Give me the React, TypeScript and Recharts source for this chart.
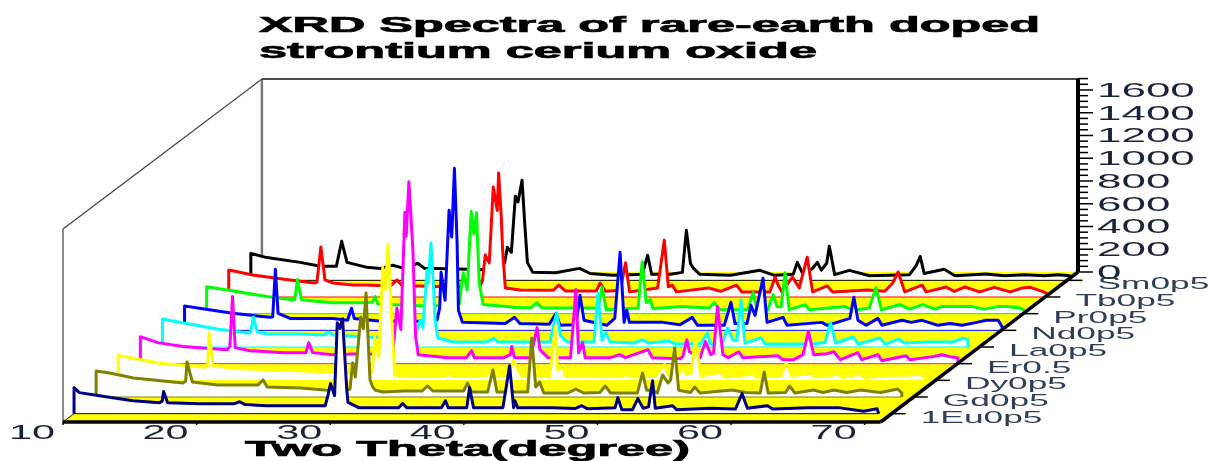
import { Area, ComposedChart, XAxis, YAxis } from "recharts";

type Pair = [number, number];

// two theta (degree), counts, front trace first
const eu0p5: Pair[] = [[10,229],[10.4,185],[11.9,158],[14.4,114],[16.4,97],[16.6,110],[16.7,194],[17,97],[19.4,88],[22,88],[22.4,105],[22.8,80],[24.4,70],[26.9,70],[28.8,70],[29,158],[29.2,264],[29.5,158],[29.7,800],[29.9,750],[30.1,835],[30.4,230],[30.5,100],[30.7,88],[31.3,53],[33.3,53],[34.3,53],[34.6,88],[34.9,53],[37.5,53],[37.8,114],[38,53],[39.4,53],[39.6,229],[39.9,53],[42.1,53],[42.6,422],[42.9,53],[43,114],[43.2,53],[45.8,53],[47.5,45],[48,70],[48.4,44],[50.5,53],[50.7,141],[51,35],[51.8,35],[52.2,132],[52.6,48],[53,60],[53.3,290],[53.5,48],[54.8,70],[55.1,35],[57.6,48],[59.5,40],[60,176],[60.4,48],[61.9,70],[62.3,40],[64.9,53],[67.2,53],[69.1,22],[70.1,44],[70.2,8]];
const gd0p5: Pair[] = [[10,229],[11,211],[12.8,167],[16.5,123],[16.7,140],[16.8,308],[17.2,132],[19.1,105],[22.1,105],[22.5,150],[22.8,88],[25.3,79],[27.1,62],[28.6,53],[29,70],[29.2,300],[29.4,176],[29.8,704],[30,600],[30.2,915],[30.4,390],[30.5,150],[30.7,88],[30.9,60],[31.5,44],[33,53],[34.4,53],[34.8,97],[35.2,53],[37.5,53],[37.8,123],[38.1,44],[39.3,44],[39.7,238],[40,44],[42.3,44],[42.6,519],[42.9,88],[43.2,132],[43.5,35],[45.3,35],[45.9,70],[46.5,35],[47.7,40],[48.1,97],[48.5,35],[50.5,35],[50.9,211],[51.2,60],[51.6,60],[52,35],[52.4,194],[52.8,123],[53,150],[53.3,431],[53.6,60],[54.5,40],[54.8,88],[55.2,35],[57.6,62],[58.6,40],[59.7,35],[60,220],[60.3,35],[61.6,40],[61.9,97],[62.3,35],[63.7,62],[64.4,40],[65.2,62],[66.2,40],[67.2,62],[68.7,40],[70,70],[70.3,35]];
const dy0p5: Pair[] = [[10,220],[11.1,194],[13.1,150],[16.5,114],[16.7,130],[16.8,413],[17.1,132],[18.6,105],[22.4,88],[26.1,70],[28.1,62],[29,70],[29.2,378],[29.5,200],[29.8,993],[30,800],[30.2,1195],[30.4,700],[30.6,250],[30.7,44],[32.6,35],[34.4,35],[34.7,70],[35,35],[37.5,35],[37.8,70],[38.1,35],[39.2,40],[39.6,176],[39.9,100],[40.2,35],[42.3,35],[42.7,466],[42.9,90],[43.2,132],[43.5,35],[46.1,44],[47.7,35],[48.1,53],[48.5,30],[50.2,35],[50.9,140],[51.2,40],[51.9,40],[52.2,114],[52.6,50],[52.9,70],[53.2,378],[53.6,40],[55.1,70],[55.4,30],[57.5,53],[57.8,30],[59.6,40],[60,150],[60.4,40],[61.8,62],[62.2,30],[63.9,53],[64.2,26],[65.5,53],[65.9,26],[67.8,44],[69,44],[70,53],[70.4,30]];
const er0p5: Pair[] = [[10,237],[11.3,185],[13.2,150],[16.5,123],[16.7,150],[16.9,590],[17.1,141],[18.2,114],[20.7,97],[22.4,97],[22.6,185],[22.9,97],[24.4,79],[26.5,88],[28.5,79],[28.9,90],[29.2,490],[29.5,300],[29.8,1330],[29.9,1120],[30.1,1600],[30.4,1000],[30.6,240],[30.8,79],[33,53],[34.4,53],[34.8,114],[35,53],[37.2,53],[37.7,80],[37.8,150],[38,53],[39.2,53],[39.7,317],[39.9,123],[40.5,53],[42.2,53],[42.6,651],[42.8,97],[43.1,185],[43.3,53],[45.2,53],[45.9,79],[46.3,53],[48,123],[48.3,53],[50.4,44],[50.6,60],[50.9,211],[51.1,105],[51.9,53],[52.3,194],[52.7,79],[52.9,90],[53.2,501],[53.6,79],[54,53],[54.8,105],[55.1,53],[57.7,70],[58.1,35],[58.9,35],[59.6,79],[60,282],[60.4,79],[61.4,88],[61.9,105],[62.4,35],[63.7,97],[64,35],[65.2,79],[65.5,26],[67.3,70],[67.6,35],[69.3,62],[70,79],[70.6,62],[71.2,50]];
const la0p5: Pair[] = [[10,246],[11.6,211],[14.1,158],[16.4,123],[16.6,130],[16.8,264],[17.1,132],[17.9,114],[20.3,114],[22.1,105],[22.4,132],[22.8,105],[25.3,88],[27.8,80],[28.9,90],[29.3,238],[29.5,167],[29.8,677],[29.9,560],[30.1,915],[30.3,500],[30.4,250],[30.6,79],[31.8,44],[34.3,44],[34.8,79],[35.1,44],[39,44],[39.5,299],[39.8,100],[40.3,44],[42.3,44],[42.6,475],[42.9,60],[43.2,123],[43.5,44],[45.3,35],[45.9,62],[46.4,35],[47.9,53],[48.4,26],[50.3,30],[50.8,123],[51,26],[51.9,30],[52.3,167],[52.7,60],[53,60],[53.3,413],[53.6,35],[54.8,79],[55.1,26],[57.6,26],[58.9,30],[59.6,40],[60,211],[60.4,35],[61.7,88],[62.1,26],[63.7,79],[64.1,26],[65.1,70],[65.5,35],[67.3,44],[69.2,44],[69.9,79],[70.3,60]];
const nd0p5: Pair[] = [[10,215],[11.1,194],[13.6,150],[16.4,114],[16.6,120],[16.8,536],[17,150],[17.9,105],[21.1,105],[22.2,88],[22.5,194],[22.7,105],[24.7,80],[27.6,80],[28.9,90],[29.1,200],[29.2,510],[29.5,264],[29.8,1056],[30,820],[30.2,1425],[30.4,765],[30.5,176],[30.8,70],[34,60],[34.7,114],[35.1,60],[37.3,53],[37.8,150],[38.1,44],[39.3,50],[39.6,308],[39.9,88],[41.6,44],[42.2,105],[42.6,686],[42.9,70],[43.1,176],[43.3,70],[45.8,70],[47.1,50],[48,114],[48.4,44],[50.4,44],[50.9,246],[51.2,60],[52.1,60],[52.4,220],[52.7,130],[53.3,458],[53.6,70],[54.8,114],[55.1,44],[57.7,70],[58.1,44],[59.8,105],[60.1,290],[60.4,88],[61,44],[61.9,105],[62.2,44],[63.7,88],[64.4,70],[65.2,88],[66.4,44],[67.3,60],[68.2,44],[69.3,70],[70,88],[70.9,88],[71.2,30]];
const pr0p5: Pair[] = [[10,237],[11.9,202],[14.5,150],[16.4,123],[16.6,125],[16.8,300],[17.1,123],[19.4,97],[21.5,97],[22.4,100],[22.6,150],[22.8,85],[25.9,70],[28.6,70],[28.9,85],[29.2,360],[29.5,210],[29.8,897],[30,700],[30.2,888],[30.4,270],[30.7,80],[33.4,53],[34.3,53],[34.7,97],[35.1,50],[39.3,50],[39.6,237],[39.9,35],[42.3,50],[42.6,457],[42.9,97],[43.2,123],[43.4,45],[45.6,62],[47.6,50],[48,97],[48.4,35],[50.5,35],[50.9,185],[51.2,35],[52,35],[52.4,167],[52.7,62],[53,60],[53.3,360],[53.6,35],[54.8,80],[55.1,35],[57.8,62],[58.4,30],[59.6,50],[60.1,230],[60.5,35],[61.9,80],[62.6,40],[63.6,80],[64.5,40],[65,62],[67.3,62],[68.2,40],[69.2,62],[69.9,62],[70.9,50],[71.2,30]];
const tb0p5: Pair[] = [[10,237],[11.8,194],[14,158],[16.4,123],[16.6,130],[16.9,440],[17.2,150],[17.8,123],[19.3,105],[20.3,105],[22.1,97],[22.6,150],[23,97],[24.3,97],[26.5,88],[28.8,88],[29,150],[29.2,370],[29.5,300],[29.8,968],[30.1,760],[30.2,1090],[30.4,700],[30.5,410],[30.7,80],[31.8,62],[34.3,60],[34.7,105],[35.2,53],[37.5,53],[37.8,123],[38.2,50],[39.3,60],[39.7,300],[40,45],[42.1,80],[42.6,500],[42.9,90],[43.2,105],[43.5,45],[45.9,80],[46.8,50],[48,105],[48.4,45],[50.5,45],[50.9,176],[51.1,110],[51.4,45],[52.2,176],[52.7,80],[53.3,350],[53.7,45],[54.8,97],[55.2,45],[57.8,62],[59.1,50],[59.7,123],[60.1,220],[60.6,45],[61.9,105],[62.2,45],[63.7,88],[64.3,50],[65.1,88],[66.2,45],[67.3,85],[68.5,45],[69.4,80],[70,85],[70.9,50],[71.2,35]];
const sm0p5: Pair[] = [[10,237],[11.2,200],[13.7,158],[15.2,123],[16.4,123],[16.8,343],[17.2,158],[18.7,114],[19.7,105],[20.6,132],[21.5,105],[22.5,150],[23,105],[23.9,105],[26.2,97],[28.6,88],[29,158],[29.2,290],[29.5,246],[29.8,740],[30,690],[30.3,880],[30.5,500],[30.7,158],[31.1,70],[32.8,66],[34.6,105],[35.4,60],[37.1,44],[38.4,50],[39.3,53],[39.7,220],[40,53],[41.4,53],[42.3,70],[42.6,440],[42.9,150],[43.1,110],[43.6,53],[45.9,44],[48.1,88],[49.2,44],[50.6,53],[50.9,158],[51.3,60],[52,100],[52.4,158],[52.7,90],[53.1,150],[53.3,300],[53.7,50],[54.8,88],[56.3,40],[59.3,50],[59.8,130],[60.1,210],[60.4,60],[61.9,97],[62.7,40],[65,55],[66.4,40],[67.9,50],[69.4,40],[70.4,50],[71.3,40]];

const seriesData = [eu0p5, gd0p5, dy0p5, er0p5, la0p5, nd0p5, pr0p5, tb0p5, sm0p5];
const seriesNames = ["1Eu0p5", "Gd0p5", "Dy0p5", "Er0.5", "La0p5", "Nd0p5", "Pr0p5", "Tb0p5", "Sm0p5"];
const seriesColors = ["#000080", "#808000", "#ffff00", "#ff00ff", "#00ffff", "#0000ff", "#00ff00", "#ff0000", "#000000"];
const xTicks = [10, 20, 30, 40, 50, 60, 70];
const yMajor = [0, 200, 400, 600, 800, 1000, 1200, 1400, 1600];
const yAll = [0,50,100,150,200,250,300,350,400,450,500,550,600,650,700,750,800,850,900,950,1000,1050,1100,1150,1200,1250,1300,1350,1400,1450,1500,1550,1600,1650,1700];

// oblique offset of one depth step, in axis units
const DX = 1.654;
const DY = 146.5;
const DEPTH = seriesData.length;
const X_MIN = 10;
const X_END = 71.2;
const X_MAX = 85.97;
const Y_MAX = 3015;
const BACK = DEPTH * DY;
const BACK_X = DEPTH * DX;
const WALL_TOP = Y_MAX;
const SIDE_TOP = Y_MAX - BACK;

const INK = "#1a2438";
const FONT = "'Liberation Sans', Arial, sans-serif";

const shifted = (pts: Pair[], depth: number) =>
  pts.map(([t, c]) => ({ x: t + depth * DX, y: c + depth * DY }));

const floor = [
  { x: X_MIN, low: 0, high: 0 },
  { x: X_MIN + BACK_X, low: 0, high: BACK },
  { x: X_END, low: 0, high: BACK },
  { x: X_MAX, low: BACK, high: BACK },
];

const seg = (x1: number, y1: number, x2: number, y2: number) => [
  { x: x1, y: y1 },
  { x: x2, y: y2 },
];

const zAnchors = seriesNames.map((name, k) => ({
  x: X_END + (k + 0.5) * DX,
  y: (k + 0.5) * DY,
  name,
}));

const frameLine = (key: string, data: { x: number; y: number }[], color: string, width: number) => (
  <Area
    key={key}
    data={data}
    dataKey="y"
    type="linear"
    baseValue={0}
    fill="none"
    stroke={color}
    strokeWidth={width}
    dot={false}
    activeDot={false}
    isAnimationActive={false}
  />
);

const XTick = (props: any) => {
  const { x, y, payload } = props;
  return (
    <g>
      <line x1={x} y1={y} x2={x} y2={y + 3} stroke="#000" strokeWidth={1.5} />
      <text
        transform={`translate(${x - 31},${y + 17}) scale(2.07,1)`}
        textAnchor="middle"
        fontFamily={FONT}
        fontSize={20}
        fill={INK}
      >
        {payload.value}
      </text>
    </g>
  );
};

const YTick = (props: any) => {
  const { x, y, payload } = props;
  const v = Math.round(payload.value - BACK);
  const major = yMajor.includes(v);
  return (
    <g>
      <line x1={x} y1={y} x2={x + (major ? 15 : 10)} y2={y} stroke="#000" strokeWidth={1.5} />
      {major && (
        <text
          transform={`translate(${x + 19},${y + 7}) scale(2.2,1)`}
          fontFamily={FONT}
          fontSize={20}
          fill={INK}
        >
          {v}
        </text>
      )}
    </g>
  );
};

const ZTick = (props: any) => {
  const { cx, cy, payload } = props;
  return (
    <g key={payload.name}>
      <line x1={cx} y1={cy} x2={cx + 14} y2={cy} stroke="#000" strokeWidth={1.5} />
      <text
        transform={`translate(${cx + 29},${cy + 9}) scale(2.14,1)`}
        fontFamily={FONT}
        fontSize={16.5}
        fill="#2f3e57"
      >
        {payload.name}
      </text>
    </g>
  );
};

export default function App() {
  return (
    <div style={{ position: "absolute", left: 0, top: 0, width: 1211, height: 461, overflow: "hidden", filter: "blur(0.5px)" }}>
      <ComposedChart
        width={1211}
        height={461}
        margin={{ top: 79, right: 33, bottom: 9, left: 63 }}
      >
        <XAxis
          type="number"
          dataKey="x"
          domain={[X_MIN, X_MAX]}
          ticks={xTicks}
          interval={0}
          height={30}
          axisLine={false}
          tickLine={false}
          tickSize={0}
          tickMargin={0}
          tick={<XTick />}
        />
        <YAxis
          type="number"
          orientation="right"
          domain={[0, Y_MAX]}
          ticks={yAll.map((v) => v + BACK)}
          interval={0}
          width={100}
          axisLine={false}
          tickLine={false}
          tickSize={0}
          tickMargin={0}
          tick={<YTick />}
        />

        {/* floor */}
        <Area
          data={floor}
          dataKey={(d: any) => [d.low, d.high]}
          type="linear"
          fill="#ffff00"
          fillOpacity={1}
          stroke="none"
          dot={false}
          activeDot={false}
          isAnimationActive={false}
        />

        {/* walls */}
        {frameLine("sideV", seg(X_MIN, 0, X_MIN, SIDE_TOP), "#8a8a8a", 2)}
        {frameLine("slant", seg(X_MIN, SIDE_TOP, X_MIN + BACK_X, WALL_TOP), "#444", 1.2)}
        {frameLine("backV", seg(X_MIN + BACK_X, BACK, X_MIN + BACK_X, WALL_TOP), "#777", 2.5)}
        {frameLine("backTop", seg(X_MIN + BACK_X, WALL_TOP, X_MAX, WALL_TOP), "#111", 1.5)}
        {frameLine("floorSlant", seg(X_MIN, 0, X_MIN + BACK_X, BACK), "#222", 1)}

        {/* traces, back to front */}
        {seriesData
          .map((pts, k) => {
            const depth = k + 0.5;
            const line = shifted(pts, depth);
            const base = depth * DY;
            const x0 = line[0].x;
            const x1 = line[line.length - 1].x;
            return [
              <Area
                key={`fill-${k}`}
                data={[{ x: x0, y: base }, ...line, { x: x1, y: base }]}
                dataKey="y"
                type="linear"
                baseValue={base}
                fill="#ffffff"
                fillOpacity={1}
                stroke={seriesColors[k]}
                strokeWidth={3}
                strokeLinejoin="round"
                dot={false}
                activeDot={false}
                isAnimationActive={false}
              />,
              frameLine(`base-${k}`, seg(x0, base, x1, base), seriesColors[k], 1),
            ];
          })
          .reverse()}

        {/* front frame */}
        {frameLine("front", seg(X_MIN, 0, X_END, 0), "#000", 3.5)}
        {frameLine("diag", seg(X_END, 0, X_MAX, BACK), "#000", 3.5)}
        {frameLine("yAxis", seg(X_MAX, BACK, X_MAX, WALL_TOP), "#000", 4)}
        <Area
          data={zAnchors}
          dataKey="y"
          type="linear"
          baseValue={0}
          fill="none"
          stroke="none"
          dot={(p: any) => <ZTick key={p.payload.name} {...p} />}
          activeDot={false}
          isAnimationActive={false}
        />

        <text x={259} y={32} fontFamily={FONT} fontWeight={700} fontSize={22} fill="#000" stroke="#000" strokeWidth={0.7} textLength={781} lengthAdjust="spacingAndGlyphs">
          XRD Spectra of rare-earth doped
        </text>
        <text x={259} y={58} fontFamily={FONT} fontWeight={700} fontSize={22} fill="#000" stroke="#000" strokeWidth={0.7} textLength={558} lengthAdjust="spacingAndGlyphs">
          strontium cerium oxide
        </text>
        <text x={245} y={456} fontFamily={FONT} fontWeight={700} fontSize={22} fill="#000" stroke="#000" strokeWidth={0.7} textLength={445} lengthAdjust="spacingAndGlyphs">
          Two Theta(degree)
        </text>
      </ComposedChart>
    </div>
  );
}
